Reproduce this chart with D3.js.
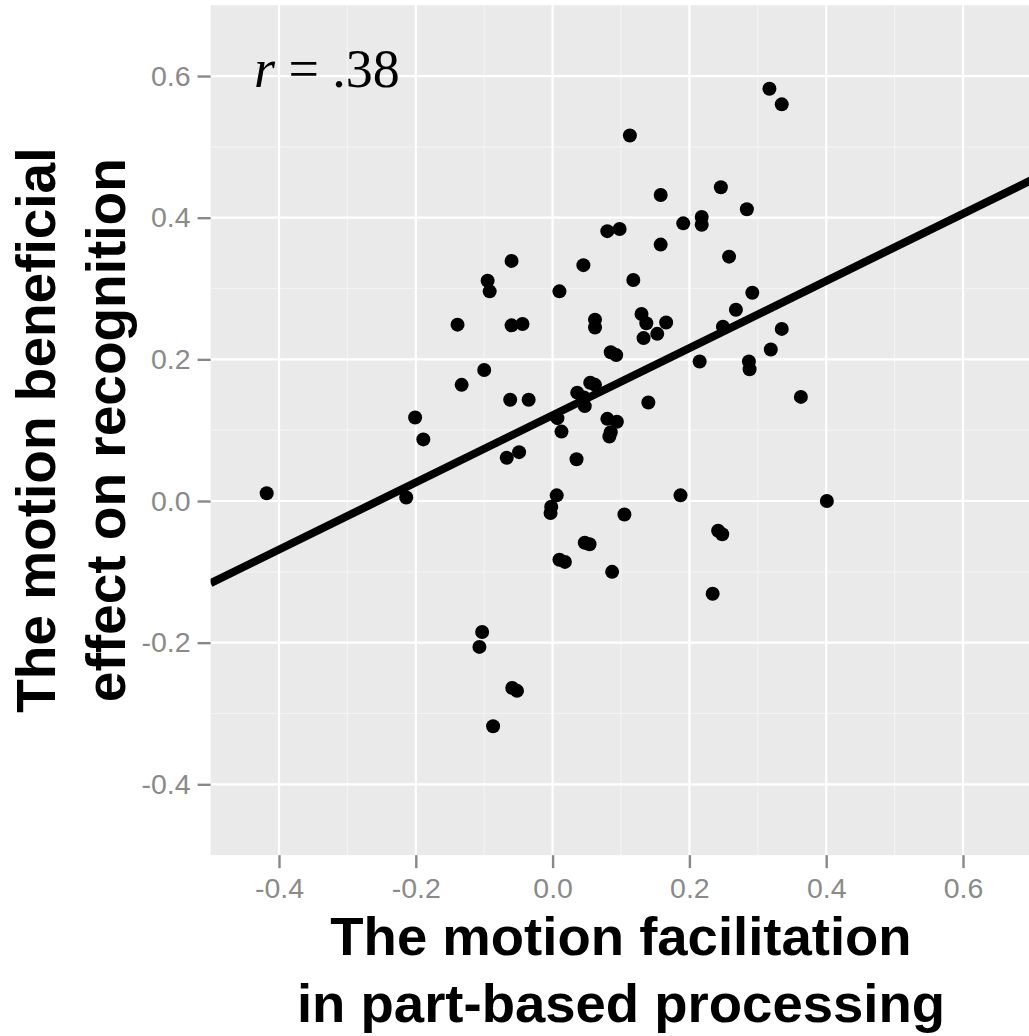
<!DOCTYPE html>
<html><head><meta charset="utf-8">
<script src="https://cdn.jsdelivr.net/npm/d3@7"></script>
<style>body{margin:0;background:#fff}</style>
</head><body>
<svg id="chart" width="1029" height="1036"></svg>
<script>
// ---- data ----
const xValues = [-0.418,-0.214,-0.201,-0.189,-0.139,-0.133,-0.100,-0.095,-0.092,-0.060,
  -0.060,-0.044,-0.062,-0.035,-0.067,-0.049,-0.103,-0.107,-0.059,-0.052,
  -0.087,0.010,0.045,0.062,0.062,0.080,0.098,0.113,0.118,0.130,
  0.137,0.166,0.133,0.153,0.158,0.158,0.191,0.218,0.218,0.246,
  0.284,0.258,0.292,0.268,0.249,0.335,0.319,0.317,0.335,0.085,
  0.093,0.215,0.287,0.288,0.363,0.140,0.080,0.094,0.085,0.083,
  0.055,0.062,0.036,0.046,0.047,0.007,0.013,0.035,0.006,-0.002,
  -0.003,0.187,0.401,0.105,0.242,0.248,0.087,0.234,0.047,0.054,
  0.010,0.018];
const yValues = [0.011,0.005,0.118,0.087,0.249,0.164,0.185,0.311,0.296,0.339,
  0.248,0.250,0.143,0.143,0.061,0.069,-0.185,-0.206,-0.264,-0.268,
  -0.318,0.296,0.333,0.256,0.245,0.381,0.384,0.516,0.312,0.264,
  0.251,0.252,0.230,0.236,0.432,0.362,0.392,0.401,0.390,0.443,
  0.412,0.345,0.294,0.270,0.246,0.243,0.214,0.582,0.560,0.210,
  0.206,0.197,0.197,0.186,0.147,0.139,0.116,0.112,0.097,0.091,
  0.167,0.164,0.153,0.146,0.134,0.117,0.098,0.059,0.008,-0.008,
  -0.017,0.008,0.000,-0.019,-0.042,-0.047,-0.100,-0.131,-0.059,-0.061,
  -0.083,-0.086];
const xTicks = [-0.4, -0.2, 0.0, 0.2, 0.4, 0.6];
const yTicks = [-0.4, -0.2, 0.0, 0.2, 0.4, 0.6];
const xMinor = [-0.3, -0.1, 0.1, 0.3, 0.5];
const yMinor = [-0.3, -0.1, 0.1, 0.3, 0.5];
const xDomain = [-0.5, 0.7];
const yDomain = [-0.5, 0.7];
const fitX = [-0.5, 0.7];
const fitY = [-0.116, 0.453];
const xTitle = ["The motion facilitation", "in part-based processing"];
const yTitle = ["The motion beneficial", "effect on recognition"];
const annotX = -0.33, annotY = 0.6;
const annotVar = "r", annotRest = " = .38";

// ---- drawing ----
const svg = d3.select("#chart");
svg.append("rect").attr("width", 1029).attr("height", 1036).attr("fill", "#fff");

const x = d3.scaleLinear().domain(xDomain).range([210.6, 1031.4]);
const y = d3.scaleLinear().domain(yDomain).range([855.15, 5.2]);

const [px0, px1] = x.range();
const [py1, py0] = y.range();

svg.append("defs").append("clipPath").attr("id", "panel")
  .append("rect").attr("x", px0).attr("y", py0).attr("width", px1 - px0).attr("height", py1 - py0);

svg.append("rect").attr("x", px0).attr("y", py0).attr("width", px1 - px0).attr("height", py1 - py0)
  .attr("fill", "#EAEAEA");

const grid = svg.append("g");
grid.selectAll(".xm").data(xMinor).join("line")
  .attr("x1", d => x(d)).attr("x2", d => x(d)).attr("y1", py0).attr("y2", py1)
  .attr("stroke", "#F3F3F3").attr("stroke-width", 1.2);
grid.selectAll(".ym").data(yMinor).join("line")
  .attr("y1", d => y(d)).attr("y2", d => y(d)).attr("x1", px0).attr("x2", px1)
  .attr("stroke", "#F3F3F3").attr("stroke-width", 1.2);
grid.selectAll(".xM").data(xTicks).join("line")
  .attr("x1", d => x(d)).attr("x2", d => x(d)).attr("y1", py0).attr("y2", py1)
  .attr("stroke", "#fff").attr("stroke-width", 2.2);
grid.selectAll(".yM").data(yTicks).join("line")
  .attr("y1", d => y(d)).attr("y2", d => y(d)).attr("x1", px0).attr("x2", px1)
  .attr("stroke", "#fff").attr("stroke-width", 2.2);

const fmt = d => d.toFixed(1);
const gx = svg.append("g").attr("transform", `translate(0,${py1})`)
  .call(d3.axisBottom(x).tickValues(xTicks).tickSize(13).tickPadding(10).tickFormat(fmt));
const gy = svg.append("g").attr("transform", `translate(${px0},0)`)
  .call(d3.axisLeft(y).tickValues(yTicks).tickSize(13).tickPadding(7).tickFormat(fmt));
[gx, gy].forEach(g => {
  g.select(".domain").remove();
  g.selectAll(".tick line").attr("stroke", "#888").attr("stroke-width", 2.4);
  g.selectAll(".tick text").attr("fill", "#8A8A8A")
    .style("font-family", "'Liberation Sans', Arial, sans-serif").style("font-size", "28.5px");
});

const plot = svg.append("g").attr("clip-path", "url(#panel)");
plot.selectAll("circle").data(xValues.map((v, i) => [v, yValues[i]])).join("circle")
  .attr("cx", d => x(d[0])).attr("cy", d => y(d[1])).attr("r", 7).attr("fill", "#000");

plot.append("path")
  .datum(fitX.map((v, i) => [v, fitY[i]]))
  .attr("d", d3.line().x(d => x(d[0])).y(d => y(d[1])))
  .attr("stroke", "#000").attr("stroke-width", 8).attr("fill", "none");

const ann = svg.append("text")
  .attr("x", x(annotX)).attr("y", y(annotY) + 11)
  .attr("text-anchor", "middle")
  .style("font-family", "'Liberation Serif', 'Times New Roman', serif").style("font-size", "54px")
  .attr("fill", "#000");
ann.append("tspan").style("font-style", "italic").text(annotVar);
ann.append("tspan").text(annotRest);

const titleFont = "'Liberation Sans', Arial, Helvetica, sans-serif";
const cx = (px0 + px1) / 2;
svg.selectAll(".xt").data(xTitle).join("text")
  .attr("x", cx).attr("y", (d, i) => 955 + i * 67)
  .attr("text-anchor", "middle")
  .style("font-family", titleFont).style("font-weight", "bold").style("font-size", "54.5px")
  .text(d => d);

const cy = (py0 + py1) / 2;
svg.selectAll(".yt").data(yTitle).join("text")
  .attr("transform", (d, i) => `translate(${55 + i * 70},${cy}) rotate(-90)`)
  .attr("text-anchor", "middle")
  .style("font-family", titleFont).style("font-weight", "bold").style("font-size", "55px")
  .text(d => d);
</script>
</body></html>
